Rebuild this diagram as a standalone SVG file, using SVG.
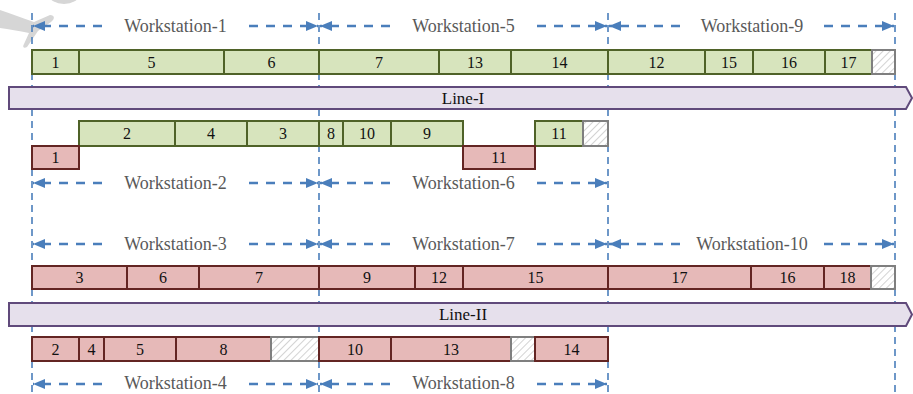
<svg xmlns="http://www.w3.org/2000/svg" width="913" height="394" viewBox="0 0 913 394">
  <defs>
    <pattern id="hatch" patternUnits="userSpaceOnUse" width="5" height="5" patternTransform="rotate(45)">
      <rect width="5" height="5" fill="#ffffff"/>
      <line x1="0" y1="0" x2="0" y2="5" stroke="#c8c8c8" stroke-width="1.6"/>
    </pattern>
    <marker id="head" markerUnits="userSpaceOnUse" markerWidth="13" markerHeight="11" refX="12" refY="5" orient="auto-start-reverse">
      <path d="M0,0 L12,5 L0,10 Z" fill="#4a7ebb"/>
    </marker>
  </defs>
  <style>
    .g { fill: #d7e4bd; stroke: #4f6228; stroke-width: 2; }
    .r { fill: #e6b9b8; stroke: #632523; stroke-width: 2; }
    .h { fill: url(#hatch); stroke: #7f7f7f; stroke-width: 2; }
    .band { fill: #e6e0ec; stroke: #604a7b; stroke-width: 2; }
    .num { font-family: "Liberation Serif", "Times New Roman", serif; font-size: 16px; fill: #111111; text-anchor: middle; dominant-baseline: central; }
    .lbl { font-family: "Liberation Serif", "Times New Roman", serif; font-size: 18px; fill: #595959; text-anchor: middle; dominant-baseline: central; }
    .line { font-family: "Liberation Serif", "Times New Roman", serif; font-size: 17px; fill: #111111; text-anchor: middle; dominant-baseline: central; }
    .vdash { stroke: #4a7ebb; stroke-width: 1.6; stroke-dasharray: 7 5; fill: none; }
    .span { stroke: #4a7ebb; stroke-width: 2.4; stroke-dasharray: 9 8; fill: none; }
  </style>

  <!-- faint background mark in the corner -->
  <g id="mark" fill="#d6d6d6">
    <ellipse cx="64" cy="-5" rx="15" ry="9"/>
    <path d="M0,10 C12,14 22,18 34,22 L50,15 C55,15 55,19 51,22 L38,31 L27,47 C24,49 22,47 24,44 L29,33 C19,31 9,29 0,28 Z"/>
  </g>

  <!-- workstation boundaries -->
  <g id="boundaries">
    <line class="vdash" x1="32" y1="13" x2="32" y2="394"/>
    <line class="vdash" x1="319" y1="13" x2="319" y2="394"/>
    <line class="vdash" x1="608" y1="13" x2="608" y2="394"/>
    <line class="vdash" x1="895" y1="13" x2="895" y2="394"/>
  </g>

  <!-- production lines -->
  <g id="line-1">
    <path class="band" d="M9,87 L906,87 L912,98 L906,109 L9,109 Z"/>
    <text class="line" x="463" y="98">Line-I</text>
  </g>
  <g id="line-2">
    <path class="band" d="M9,303 L906,303 L912,314.5 L906,326 L9,326 Z"/>
    <text class="line" x="463" y="314.5">Line-II</text>
  </g>

  <!-- workstation span arrows -->
  <g id="connectors">
    <path class="span" d="M102,26 L33,26" marker-end="url(#head)"/>
    <path class="span" d="M249,26 L318,26" marker-end="url(#head)"/>
    <path class="span" d="M390,26 L320,26" marker-end="url(#head)"/>
    <path class="span" d="M537,26 L607,26" marker-end="url(#head)"/>
    <path class="span" d="M680,26 L609,26" marker-end="url(#head)"/>
    <path class="span" d="M824,26 L894,26" marker-end="url(#head)"/>

    <path class="span" d="M102,183 L33,183" marker-end="url(#head)"/>
    <path class="span" d="M249,183 L318,183" marker-end="url(#head)"/>
    <path class="span" d="M390,183 L320,183" marker-end="url(#head)"/>
    <path class="span" d="M537,183 L607,183" marker-end="url(#head)"/>

    <path class="span" d="M102,244 L33,244" marker-end="url(#head)"/>
    <path class="span" d="M249,244 L318,244" marker-end="url(#head)"/>
    <path class="span" d="M390,244 L320,244" marker-end="url(#head)"/>
    <path class="span" d="M537,244 L607,244" marker-end="url(#head)"/>
    <path class="span" d="M680,244 L609,244" marker-end="url(#head)"/>
    <path class="span" d="M824,244 L894,244" marker-end="url(#head)"/>

    <path class="span" d="M102,384 L33,384" marker-end="url(#head)"/>
    <path class="span" d="M249,384 L318,384" marker-end="url(#head)"/>
    <path class="span" d="M390,384 L320,384" marker-end="url(#head)"/>
    <path class="span" d="M537,384 L607,384" marker-end="url(#head)"/>
  </g>

  <!-- workstation labels -->
  <g id="labels">
    <text class="lbl" x="175.5" y="26">Workstation-1</text>
    <text class="lbl" x="463.5" y="26">Workstation-5</text>
    <text class="lbl" x="752" y="26">Workstation-9</text>
    <text class="lbl" x="175.5" y="183">Workstation-2</text>
    <text class="lbl" x="463.5" y="183">Workstation-6</text>
    <text class="lbl" x="175.5" y="244">Workstation-3</text>
    <text class="lbl" x="463.5" y="244">Workstation-7</text>
    <text class="lbl" x="752" y="244">Workstation-10</text>
    <text class="lbl" x="175.5" y="383">Workstation-4</text>
    <text class="lbl" x="463.5" y="383">Workstation-8</text>
  </g>

  <!-- Line-I, upper side (workstations 1, 5, 9) -->
  <g id="row-ws-1-5-9">
    <g id="t1-a"><rect class="g" x="32" y="50" width="47" height="24"/><text class="num" x="55.5" y="62">1</text></g>
    <g id="t5-a"><rect class="g" x="79" y="50" width="145" height="24"/><text class="num" x="151.5" y="62">5</text></g>
    <g id="t6-a"><rect class="g" x="224" y="50" width="95" height="24"/><text class="num" x="271.5" y="62">6</text></g>
    <g id="t7-a"><rect class="g" x="319" y="50" width="120" height="24"/><text class="num" x="379" y="62">7</text></g>
    <g id="t13-a"><rect class="g" x="439" y="50" width="72" height="24"/><text class="num" x="475" y="62">13</text></g>
    <g id="t14-a"><rect class="g" x="511" y="50" width="97" height="24"/><text class="num" x="559.5" y="62">14</text></g>
    <g id="t12-a"><rect class="g" x="608" y="50" width="97" height="24"/><text class="num" x="656.5" y="62">12</text></g>
    <g id="t15-a"><rect class="g" x="705" y="50" width="48" height="24"/><text class="num" x="729" y="62">15</text></g>
    <g id="t16-a"><rect class="g" x="753" y="50" width="72" height="24"/><text class="num" x="789" y="62">16</text></g>
    <g id="t17-a"><rect class="g" x="825" y="50" width="47" height="24"/><text class="num" x="848.5" y="62">17</text></g>
    <g id="idle-a"><rect class="h" x="872" y="50" width="23" height="24"/></g>
  </g>

  <!-- Line-I, lower side (workstations 2, 6) -->
  <g id="row-ws-2-6">
    <g id="t2-b"><rect class="g" x="79" y="121" width="96" height="25"/><text class="num" x="127" y="133.5">2</text></g>
    <g id="t4-b"><rect class="g" x="175" y="121" width="72" height="25"/><text class="num" x="211" y="133.5">4</text></g>
    <g id="t3-b"><rect class="g" x="247" y="121" width="72" height="25"/><text class="num" x="283" y="133.5">3</text></g>
    <g id="t8-b"><rect class="g" x="319" y="121" width="24" height="25"/><text class="num" x="331" y="133.5">8</text></g>
    <g id="t10-b"><rect class="g" x="343" y="121" width="48" height="25"/><text class="num" x="367" y="133.5">10</text></g>
    <g id="t9-b"><rect class="g" x="391" y="121" width="72" height="25"/><text class="num" x="427" y="133.5">9</text></g>
    <g id="t11-b"><rect class="g" x="535" y="121" width="48" height="25"/><text class="num" x="559" y="133.5">11</text></g>
    <g id="idle-b"><rect class="h" x="583" y="121" width="25" height="25"/></g>
    <g id="t1-b"><rect class="r" x="32" y="146" width="47" height="23"/><text class="num" x="55.5" y="157.5">1</text></g>
    <g id="t11-c"><rect class="r" x="463" y="146" width="72" height="23"/><text class="num" x="499" y="157.5">11</text></g>
  </g>

  <!-- Line-II, upper side (workstations 3, 7, 10) -->
  <g id="row-ws-3-7-10">
    <g id="t3-c"><rect class="r" x="32" y="266" width="95" height="23"/><text class="num" x="79.5" y="277.5">3</text></g>
    <g id="t6-c"><rect class="r" x="127" y="266" width="72" height="23"/><text class="num" x="163" y="277.5">6</text></g>
    <g id="t7-c"><rect class="r" x="199" y="266" width="120" height="23"/><text class="num" x="259" y="277.5">7</text></g>
    <g id="t9-c"><rect class="r" x="319" y="266" width="96" height="23"/><text class="num" x="367" y="277.5">9</text></g>
    <g id="t12-c"><rect class="r" x="415" y="266" width="48" height="23"/><text class="num" x="439" y="277.5">12</text></g>
    <g id="t15-c"><rect class="r" x="463" y="266" width="145" height="23"/><text class="num" x="535.5" y="277.5">15</text></g>
    <g id="t17-c"><rect class="r" x="608" y="266" width="143" height="23"/><text class="num" x="679.5" y="277.5">17</text></g>
    <g id="t16-c"><rect class="r" x="751" y="266" width="73" height="23"/><text class="num" x="787.5" y="277.5">16</text></g>
    <g id="t18-c"><rect class="r" x="824" y="266" width="47" height="23"/><text class="num" x="847.5" y="277.5">18</text></g>
    <g id="idle-c"><rect class="h" x="871" y="266" width="24" height="23"/></g>
  </g>

  <!-- Line-II, lower side (workstations 4, 8) -->
  <g id="row-ws-4-8">
    <g id="t2-d"><rect class="r" x="32" y="337" width="47" height="24"/><text class="num" x="55.5" y="349">2</text></g>
    <g id="t4-d"><rect class="r" x="79" y="337" width="25" height="24"/><text class="num" x="91.5" y="349">4</text></g>
    <g id="t5-d"><rect class="r" x="104" y="337" width="72" height="24"/><text class="num" x="140" y="349">5</text></g>
    <g id="t8-d"><rect class="r" x="176" y="337" width="95" height="24"/><text class="num" x="223.5" y="349">8</text></g>
    <g id="idle-d1"><rect class="h" x="271" y="337" width="48" height="24"/></g>
    <g id="t10-d"><rect class="r" x="319" y="337" width="72" height="24"/><text class="num" x="355" y="349">10</text></g>
    <g id="t13-d"><rect class="r" x="391" y="337" width="120" height="24"/><text class="num" x="451" y="349">13</text></g>
    <g id="idle-d2"><rect class="h" x="511" y="337" width="24" height="24"/></g>
    <g id="t14-d"><rect class="r" x="535" y="337" width="73" height="24"/><text class="num" x="571.5" y="349">14</text></g>
  </g>
</svg>
